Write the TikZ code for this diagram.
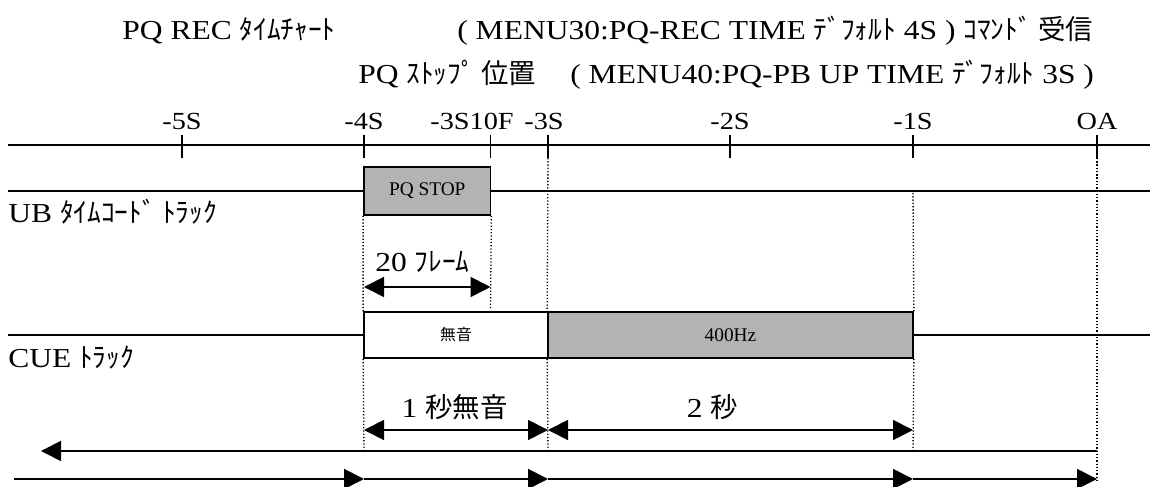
\documentclass[tikz,border=0pt]{standalone}
\usepackage{fontspec}
\setmainfont{Liberation Serif}[FakeStretch=1.15]
\newfontfamily\jpfont{Noto Sans CJK JP}
\newfontfamily\segfont{Liberation Serif}
\usetikzlibrary{arrows.meta,positioning,calc}
\definecolor{chartgray}{RGB}{179,179,179}
\newcommand{\jp}[1]{{\jpfont #1}}

\begin{document}
\begin{tikzpicture}[
        txt/.style={inner sep=0pt, font=\fontsize{15.6}{18}\selectfont},
        ticklbl/.style={inner sep=0pt, anchor=base, font=\fontsize{14}{16}\selectfont},
        axisline/.style={line width=1pt},
        seg/.style={draw, line width=1pt, inner sep=0pt, font=\segfont\fontsize{11}{13}\selectfont},
        guide/.style={line width=0.75pt, dash pattern=on 0.75pt off 1.1pt},
        tip/.style={line width=1pt, -{Triangle[length=0.4cm,width=0.4cm]}},
        span/.style={line width=1pt, {Triangle[length=0.4cm,width=0.4cm]}-{Triangle[length=0.4cm,width=0.4cm]}}
    ]
        \useasboundingbox (0,0) rectangle (23,-9.74);

        % Titles
        \node[txt, anchor=base west] (title) at (2.44,-0.8) {PQ REC \jp{ﾀｲﾑﾁｬｰﾄ}};
        \node[txt, anchor=base west] (recmenu) at (9.14,-0.8) {( MENU30:PQ-REC TIME \jp{ﾃﾞﾌｫﾙﾄ} 4S ) \jp{ｺﾏﾝﾄﾞ 受信}};
        \node[txt, anchor=base west] (stoppos) at (7.16,-1.68) {PQ \jp{ｽﾄｯﾌﾟ 位置}};
        \node[txt, anchor=base west] (pbmenu) at (11.4,-1.68) {( MENU40:PQ-PB UP TIME \jp{ﾃﾞﾌｫﾙﾄ} 3S )};

        % Time axis
        \coordinate (axL) at (0.16,-2.9);
        \coordinate (axR) at (23,-2.9);
        \draw[axisline] (axL) -- (axR);
        \foreach \x/\n in {3.64/m5, 7.28/m4, 9.81/m3f, 10.96/m3, 14.6/m2, 18.26/m1, 21.94/oa}
            \draw[axisline] (\x,-2.7) -- (\x,-3.16) coordinate (\n);
        \node[ticklbl] (lm5) at (3.64,-2.6) {-5S};
        \node[ticklbl] (lm4) at (7.28,-2.6) {-4S};
        \node[ticklbl] (lm3f) at (9.44,-2.6) {-3S10F};
        \node[ticklbl] (lm3) at (10.88,-2.6) {-3S};
        \node[ticklbl] (lm2) at (14.6,-2.6) {-2S};
        \node[ticklbl] (lm1) at (18.26,-2.6) {-1S};
        \node[ticklbl] (loa) at (21.94,-2.6) {OA};

        % UB timecode track
        \node[seg, fill=chartgray, minimum width=2.53cm, minimum height=0.96cm] (pqstop) at (8.545,-3.82) {PQ STOP};
        \coordinate (ubL) at (0.16,-3.82);
        \coordinate (ubR) at (23,-3.82);
        \draw[axisline] (ubL) -- (pqstop.west);
        \draw[axisline] (pqstop.east) -- (ubR);
        \node[txt, anchor=base west] (ublbl) at (0.16,-4.46) {UB \jp{ﾀｲﾑｺｰﾄﾞ ﾄﾗｯｸ}};

        % CUE track
        \node[seg, fill=white, minimum width=3.68cm, minimum height=0.92cm] (mute) at (9.12,-6.7) {\jpfont\fontsize{9}{10}\selectfont 無音};
        \node[seg, fill=chartgray, minimum width=7.3cm, minimum height=0.92cm] (tone) at (14.61,-6.7) {400Hz};
        \coordinate (cueL) at (0.16,-6.7);
        \coordinate (cueR) at (23,-6.7);
        \draw[axisline] (cueL) -- (mute.west);
        \draw[axisline] (tone.east) -- (cueR);
        \node[txt, anchor=base west] (cuelbl) at (0.16,-7.36) {CUE \jp{ﾄﾗｯｸ}};

        % Dotted guides
        \coordinate (gf) at (9.81,-6.2);
        \coordinate (g1top) at (18.26,-3.86);
        \coordinate (g4) at (7.28,-9.06);
        \coordinate (g3) at (10.96,-9.06);
        \coordinate (g1) at (18.26,-9.06);
        \coordinate (goa) at (21.94,-9.6);
        \draw[guide] (pqstop.south west) -- (mute.north west);
        \draw[guide] (mute.south west) -- (g4);
        \draw[guide] (pqstop.south east) -- (gf);
        \draw[guide] (m3) -- (tone.north west);
        \draw[guide] (tone.south west) -- (g3);
        \draw[guide] (g1top) -- (tone.north east);
        \draw[guide] (tone.south east) -- (g1);
        \draw[guide] (oa) -- (goa);

        % Spans
        \coordinate (fa) at (7.28,-5.74);
        \coordinate (fb) at (9.81,-5.74);
        \draw[span] (fa) -- (fb);
        \node[txt, anchor=base] (framelbl) at (8.45,-5.44) {20 \jp{ﾌﾚｰﾑ}};

        \coordinate (sa) at (7.28,-8.6);
        \coordinate (sb) at (10.96,-8.6);
        \coordinate (sc) at (18.26,-8.6);
        \draw[span] (sa) -- (sb);
        \draw[span] (sb) -- (sc);
        \node[txt, anchor=base] (mutelbl) at (9.09,-8.36) {1 \jp{秒無音}};
        \node[txt, anchor=base] (twolbl) at (14.25,-8.36) {2 \jp{秒}};

        \coordinate (la) at (21.94,-9.02);
        \coordinate (lb) at (0.82,-9.02);
        \draw[tip] (la) -- (lb);

        \coordinate (b0) at (0.28,-9.58);
        \coordinate (b4) at (7.28,-9.58);
        \coordinate (b3) at (10.96,-9.58);
        \coordinate (b1) at (18.26,-9.58);
        \coordinate (boa) at (21.94,-9.58);
        \foreach \p/\q in {b0/b4, b4/b3, b3/b1, b1/boa}
            \draw[tip] (\p) -- (\q);
    \end{tikzpicture}
\end{document}
